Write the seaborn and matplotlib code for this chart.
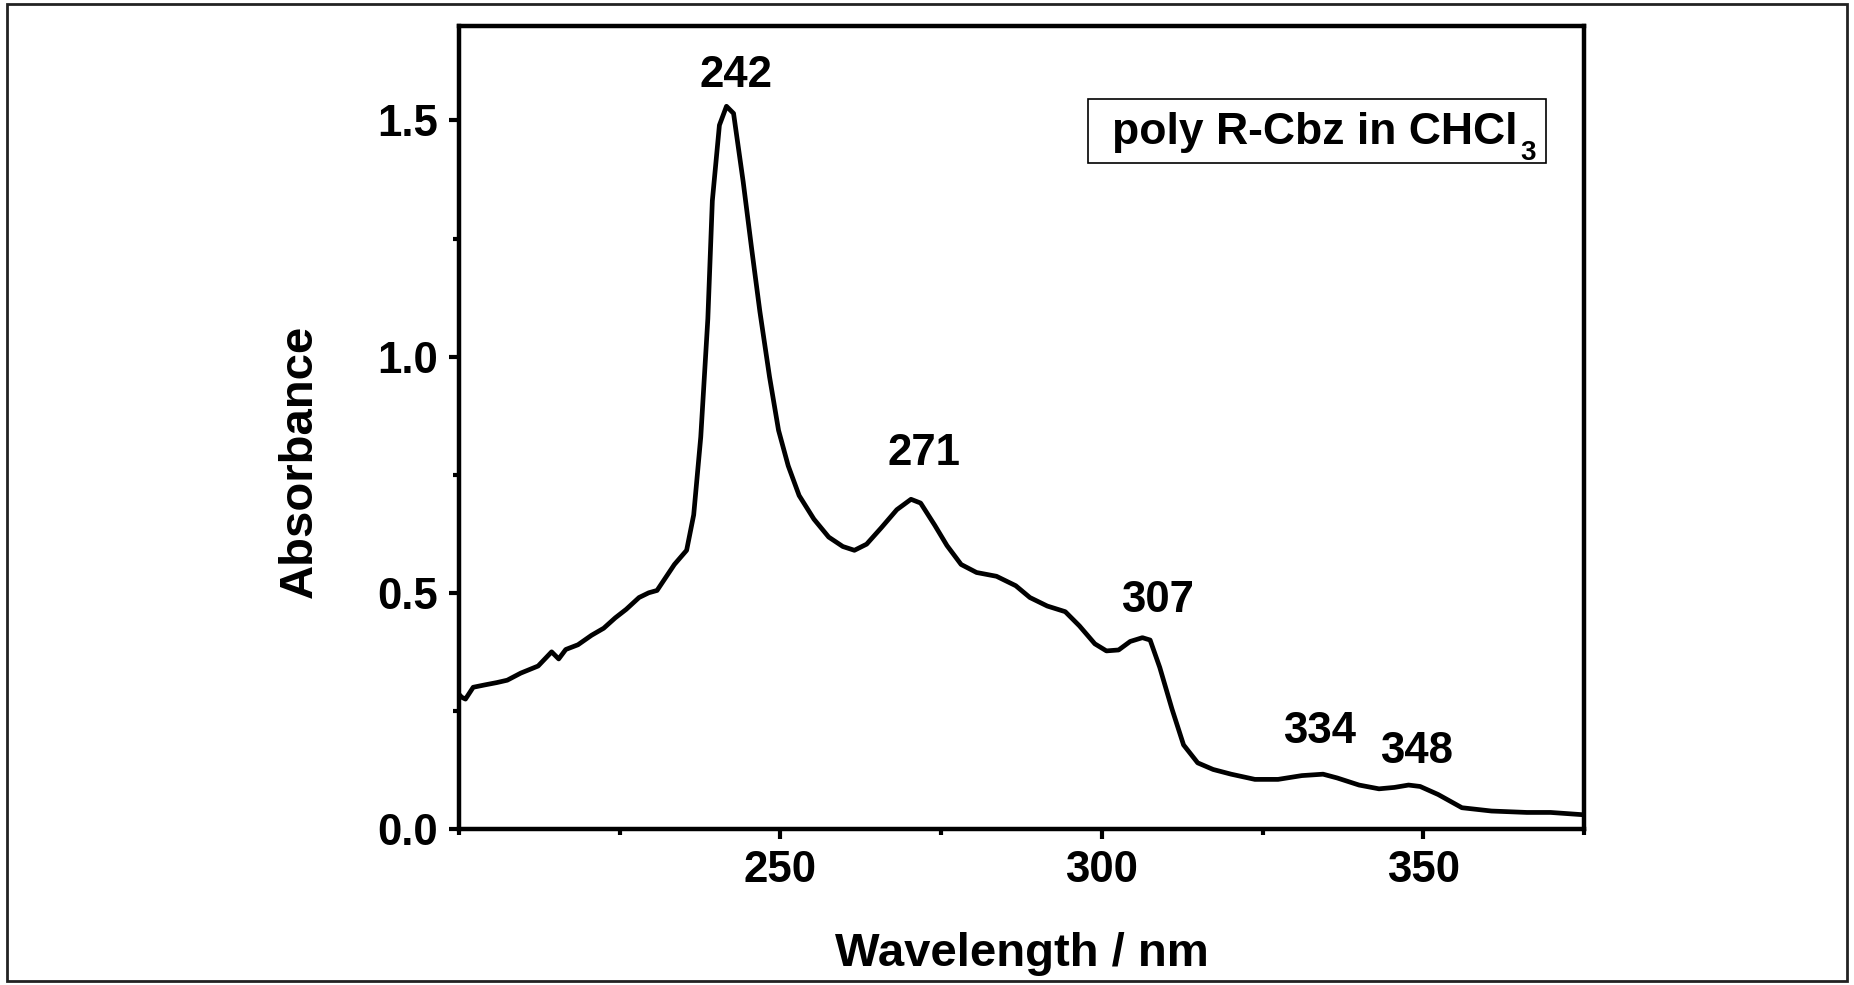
import numpy as np
import pandas as pd
import matplotlib
matplotlib.use("Agg")
import matplotlib.pyplot as plt
from matplotlib.patches import Rectangle
from matplotlib.ticker import MultipleLocator
import seaborn as sns

# ---- data ----
wavelength = [200.0, 200.4, 201.0, 202.2, 204.0, 205.9, 207.5, 209.6, 212.3, 214.4, 215.5, 216.6,
              218.5, 220.6, 222.5, 224.3, 226.0, 228.0, 229.5, 230.8, 233.5, 235.4, 236.5, 237.6,
              238.7, 239.4, 240.5, 241.6, 242.7, 244.2, 245.5, 246.8, 248.3, 249.7, 251.2, 252.9,
              255.2, 257.5, 259.7, 261.5, 263.4, 265.7, 268.1, 270.3, 271.8, 274.0, 275.9, 278.1,
              280.5, 283.6, 286.6, 288.8, 291.5, 294.3, 296.5, 298.9, 300.7, 302.6, 304.4, 306.3,
              307.5, 309.0, 310.9, 312.7, 314.9, 317.3, 320.1, 323.8, 327.4, 331.1, 334.4, 336.6,
              340.0, 343.1, 345.5, 347.7, 349.5, 352.3, 356.0, 360.6, 366.1, 369.8, 375.0]
absorbance = [0.285, 0.279, 0.275, 0.300, 0.305, 0.310, 0.315, 0.330, 0.345, 0.375, 0.360, 0.380,
              0.390, 0.410, 0.425, 0.447, 0.465, 0.490, 0.500, 0.505, 0.560, 0.590, 0.665, 0.830,
              1.080, 1.330, 1.490, 1.530, 1.515, 1.370, 1.230, 1.095, 0.957, 0.844, 0.769, 0.706,
              0.656, 0.618, 0.598, 0.590, 0.603, 0.638, 0.676, 0.698, 0.690, 0.643, 0.600, 0.560,
              0.543, 0.535, 0.515, 0.490, 0.472, 0.460, 0.430, 0.392, 0.377, 0.379, 0.397, 0.405,
              0.400, 0.342, 0.254, 0.178, 0.140, 0.126, 0.116, 0.105, 0.105, 0.113, 0.116, 0.108,
              0.093, 0.085, 0.088, 0.093, 0.090, 0.073, 0.045, 0.038, 0.035, 0.035, 0.030]

peak_labels = ["242", "271", "307", "334", "348"]
peak_x = [243.1, 272.4, 308.7, 333.9, 349.0]
peak_y = [1.596, 0.795, 0.483, 0.207, 0.164]

x_ticks = [250, 300, 350]
y_ticks = [0.0, 0.5, 1.0, 1.5]
x_label = "Wavelength / nm"
y_label = "Absorbance"
legend_main = "poly R-Cbz in CHCl"
legend_sub = "3"

# ---- style ----
sns.set_theme(style="ticks")
plt.rcParams['font.family'] = ['Liberation Sans', 'DejaVu Sans']
plt.rcParams['font.weight'] = 'bold'
plt.rcParams['text.color'] = 'black'
plt.rcParams['axes.labelcolor'] = 'black'
plt.rcParams['xtick.color'] = 'black'
plt.rcParams['ytick.color'] = 'black'

fig = plt.figure(figsize=(18.54, 9.85), dpi=100)
ax = fig.add_axes([0.2476, 0.1584, 0.6068, 0.8152])

df = pd.DataFrame({"wavelength": wavelength, "absorbance": absorbance})
sns.lineplot(data=df, x="wavelength", y="absorbance", ax=ax, color="black", lw=3.4, sort=False)

ax.set_xlim(200, 375)
ax.set_ylim(0, 1.7)
ax.set_xticks(x_ticks)
ax.set_yticks(y_ticks)
ax.set_yticklabels([f"{v:.1f}" for v in y_ticks])
ax.xaxis.set_minor_locator(MultipleLocator(25))
ax.yaxis.set_minor_locator(MultipleLocator(0.25))
ax.tick_params(which='major', direction='out', length=7, width=3, labelsize=31.5, pad=8,
               colors='black')
ax.tick_params(which='minor', direction='out', length=4, width=3, colors='black')
for lab in ax.get_xticklabels() + ax.get_yticklabels():
    lab.set_fontweight('bold')
for s in ax.spines.values():
    s.set_visible(True)
    s.set_linewidth(3.2)
    s.set_color('black')

ax.set_xlabel(x_label, fontsize=34, fontweight='bold', labelpad=30, color='black')
ax.set_ylabel(y_label, fontsize=34, fontweight='bold', color='black')
ax.yaxis.set_label_coords(-0.122, 0.458)

for t, px, py in zip(peak_labels, peak_x, peak_y):
    ax.text(px, py, t, ha='center', va='center', fontsize=31.5, fontweight='bold', color='black')

# legend-like label box
ax.add_patch(Rectangle((0.5588, 0.829), 0.4076, 0.0797, transform=ax.transAxes,
                       fill=True, facecolor='white', edgecolor='black', lw=1.2, zorder=3))
main = ax.text(0.5805, 0.853, legend_main, transform=ax.transAxes, ha='left', va='baseline',
               fontsize=32, fontweight='bold', color='black', zorder=4)
ax.annotate(legend_sub, xy=(1, 0), xycoords=main, xytext=(2, 9.5), textcoords='offset points',
            ha='left', va='top', fontsize=20, fontweight='bold', color='black', zorder=4)

# outer figure frame
fig.patches.append(Rectangle((0.004, 0.004), 0.992, 0.992, transform=fig.transFigure,
                             fill=False, edgecolor='#222222', lw=2))

fig.savefig("out.png", dpi=100)
